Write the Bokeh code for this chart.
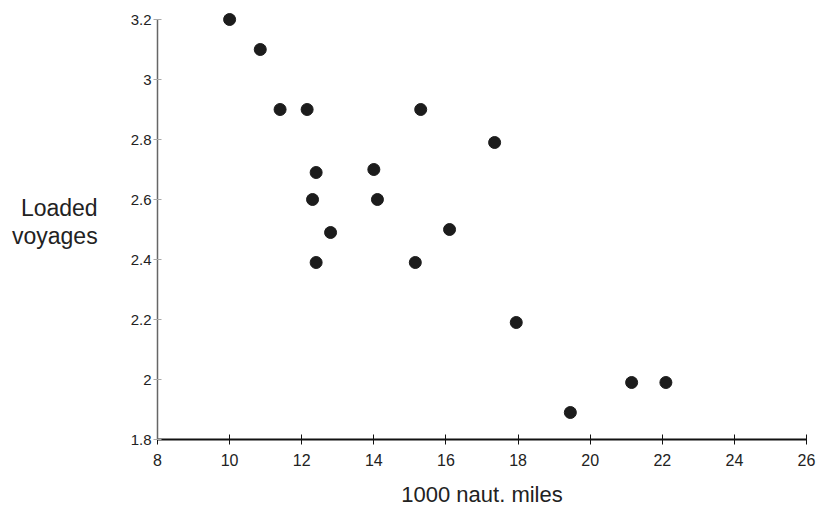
from bokeh.plotting import figure
from bokeh.models import Range1d, FixedTicker, CustomJSTickFormatter
from bokeh.embed import file_html
from bokeh.resources import INLINE

# Data
miles_1000 = [10.0, 10.85, 11.4, 12.15, 15.3, 17.35, 12.4, 14.0, 12.3, 14.1,
              12.8, 16.1, 12.4, 15.15, 17.95, 19.45, 21.15, 22.1]
loaded_voyages = [3.2, 3.1, 2.9, 2.9, 2.9, 2.79, 2.69, 2.7, 2.6, 2.6,
                  2.49, 2.5, 2.39, 2.39, 2.19, 1.89, 1.99, 1.99]
x_ticks = [8, 10, 12, 14, 16, 18, 20, 22, 24, 26]
y_ticks = [1.8, 2.0, 2.2, 2.4, 2.6, 2.8, 3.0, 3.2]
x_title = "1000 naut. miles"
y_title = "Loaded\nvoyages"

FONT = "Liberation Sans"

p = figure(width=818, height=509, output_backend="svg", toolbar_location=None,
           x_range=Range1d(8, 26), y_range=Range1d(1.8, 3.25),
           min_border_left=157, min_border_right=12,
           min_border_top=4, min_border_bottom=70)
p.outline_line_color = None
p.grid.visible = False
p.background_fill_color = "white"
p.border_fill_color = "white"

p.scatter(miles_1000, loaded_voyages, size=12, color="#1c1c1c")

# x axis
xa = p.xaxis[0]
xa.ticker = FixedTicker(ticks=x_ticks)
xa.bounds = (8, 26)
xa.axis_line_color = "#111111"
xa.axis_line_width = 2
xa.major_tick_line_color = "#111111"
xa.major_tick_in = 5
xa.major_tick_out = 5
xa.minor_tick_line_color = None
xa.major_label_text_font = FONT
xa.major_label_text_font_size = "16px"
xa.major_label_text_color = "#222222"
xa.major_label_standoff = 9
xa.axis_label = x_title
xa.axis_label_text_font = FONT
xa.axis_label_text_font_style = "normal"
xa.axis_label_text_font_size = "22px"
xa.axis_label_text_color = "#222222"
xa.axis_label_standoff = 13

# y axis
ya = p.yaxis[0]
ya.ticker = FixedTicker(ticks=y_ticks)
ya.bounds = (1.8, 3.2)
ya.formatter = CustomJSTickFormatter(code="return String(Math.round(tick*10)/10);")
ya.axis_line_color = "#666666"
ya.axis_line_width = 1.5
ya.major_tick_line_color = "#aaaaaa"
ya.major_tick_in = 4
ya.major_tick_out = 4
ya.minor_tick_line_color = None
ya.major_label_text_font = FONT
ya.major_label_text_font_size = "15px"
ya.major_label_text_color = "#222222"
ya.major_label_standoff = 2
ya.axis_label = y_title
ya.axis_label_orientation = "horizontal"
ya.axis_label_text_align = "center"
ya.axis_label_text_line_height = 1.05
ya.axis_label_text_font = FONT
ya.axis_label_text_font_style = "normal"
ya.axis_label_text_font_size = "23px"
ya.axis_label_text_color = "#222222"
ya.axis_label_standoff = 30

open("out.html", "w").write(file_html(p, INLINE))
